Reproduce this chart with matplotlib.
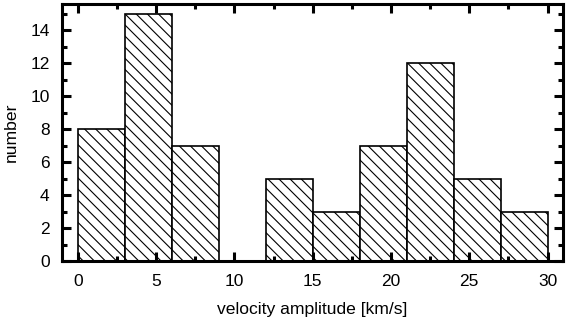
import numpy as np
import matplotlib
matplotlib.use('Agg')
import matplotlib.pyplot as plt

# histogram of velocity amplitudes, 3 km/s bins
bin_edges = [0, 3, 6, 9, 12, 15, 18, 21, 24, 27, 30]
counts = [8, 15, 7, 0, 5, 3, 7, 12, 5, 3]

plt.rcParams['font.family'] = ['Liberation Sans', 'DejaVu Sans']
plt.rcParams['hatch.linewidth'] = 0.8

fig = plt.figure(figsize=(5.7, 3.3), dpi=100)
ax = fig.add_axes([0.109, 0.209, 0.879, 0.779])

lefts = np.array(bin_edges[:-1])
widths = np.diff(bin_edges)
ax.bar(lefts, counts, width=widths, align='edge', facecolor='white',
       edgecolor='black', linewidth=1.2, hatch='\\\\\\')

ax.set_xlim(-1, 31)
ax.set_ylim(0, 15.6)
ax.set_xticks(np.arange(0, 31, 5))
ax.set_xticks(np.arange(0, 31, 2.5), minor=True)
ax.set_yticks(np.arange(0, 15, 2))
ax.set_yticks(np.arange(0, 16, 1), minor=True)

for s in ax.spines.values():
    s.set_linewidth(2.2)
ax.tick_params(which='both', direction='in', top=True, right=True,
               labelsize=12.5, width=2.2)
ax.tick_params(which='major', length=6.5, pad=9)
ax.tick_params(which='minor', length=3.5)

ax.set_xlabel('velocity amplitude [km/s]', fontsize=12.6, labelpad=10)
ax.set_ylabel('number', fontsize=12.6, labelpad=8)

fig.savefig('out.png', dpi=100)
